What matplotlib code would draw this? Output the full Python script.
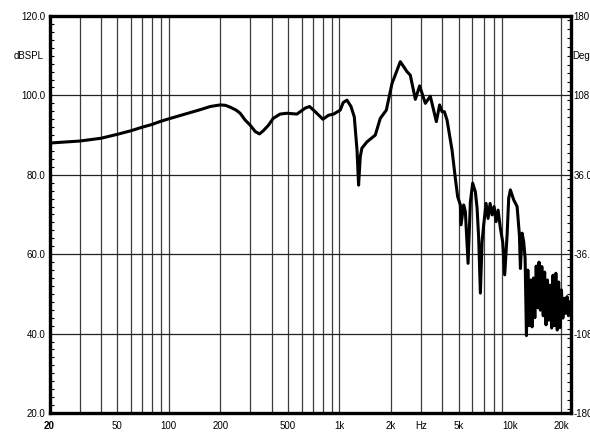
import matplotlib
matplotlib.use("Agg")
import matplotlib.pyplot as plt
from matplotlib.ticker import FixedLocator, MultipleLocator

plt.rcParams['font.family'] = ['Liberation Sans', 'DejaVu Sans']

# frequency response (Hz, dB SPL), rows of 8 kept aligned
freq = [20, 30, 40, 50, 60, 70, 80, 90,
        100, 120, 150, 175, 200, 215, 230, 248,
        262, 280, 300, 321, 340, 358, 384, 409,
        449, 492, 564, 589, 630, 668, 721, 800,
        863, 925, 1011, 1052, 1107, 1169, 1222, 1268,
        1295, 1325, 1354, 1450, 1622, 1735, 1883, 2033,
        2274, 2487, 2602, 2785, 2951, 3188, 3408, 3698,
        3866, 3993, 4119, 4272, 4571, 4779, 4930, 5112,
        5160, 5346, 5470, 5674, 5854, 6038, 6260, 6408,
        6546, 6698, 6854, 7004, 7234, 7432, 7636, 7844,
        8060, 8280, 8508, 8776, 9052, 9300, 9606, 9816,
        10042, 10500, 10996, 11342, 11497, 11764, 12020, 12250,
        12470, 12708, 12950, 13198, 13450, 13708, 13964, 14230,
        14502, 14778, 15060, 15348, 15644, 15942, 16246, 16556,
        16872, 17194, 17522, 17856, 18196, 18548, 18902, 19262,
        19626, 20000, 20382, 20770, 21166, 21570, 21984, 22404]
spl = [88.0, 88.5, 89.2, 90.2, 91.1, 92.0, 92.7, 93.5,
       94.1, 95.1, 96.3, 97.2, 97.6, 97.5, 97.0, 96.3,
       95.5, 93.8, 92.5, 90.9, 90.3, 91.1, 92.5, 94.2,
       95.3, 95.5, 95.3, 95.9, 96.8, 97.2, 95.9, 94.0,
       95.0, 95.3, 96.3, 98.2, 98.8, 97.2, 94.6, 86.2,
       77.4, 84.6, 86.7, 88.3, 90.0, 94.2, 96.3, 103.0,
       108.5, 106.0, 105.1, 99.0, 102.4, 98.0, 99.8, 93.4,
       97.6, 95.9, 95.9, 93.8, 86.2, 79.1, 74.5, 72.4,
       67.4, 72.4, 70.7, 57.7, 73.2, 77.9, 75.7, 71.6,
       64.1, 50.2, 63.1, 67.4, 72.8, 69.0, 72.8, 69.9,
       72.0, 68.2, 71.1, 66.5, 63.1, 54.8, 64.8, 74.1,
       76.2, 73.7, 72.0, 64.8, 56.4, 65.3, 63.1, 59.0,
       39.5, 56.0, 42.0, 53.5, 41.7, 54.0, 44.0, 57.0,
       46.5, 58.0, 45.9, 56.9, 44.5, 55.5, 42.2, 53.5,
       43.4, 52.2, 41.4, 54.7, 42.0, 55.2, 40.9, 53.0,
       41.5, 51.0, 43.9, 48.9, 45.1, 49.3, 44.5, 48.0]

ylabels_left = ["20.0", "40.0", "60.0", "80.0", "100.0", "120.0"]
ylabels_right = ["-180.0", "-108.0", "-36.0", "36.0", "108.0", "180.0"]
xtick_pos = [20, 50, 100, 200, 500, 1000, 2000, 3000, 5000, 10000, 20000]
xtick_lab = ["20", "50", "100", "200", "500", "1k", "2k", "Hz", "5k", "10k", "20k"]

fig = plt.figure(figsize=(5.9, 4.32), dpi=100)
ax = fig.add_axes([49.5/590, 1-413/432, (570.5-49.5)/590, (413-16)/432])

ax.set_xscale('log')
ax.set_xlim(20, 22600)
ax.set_ylim(20, 120)

# grid
grid_x = [f * m for m in (10, 100, 1000) for f in range(1, 10)] + [20000]
grid_x = sorted(set(g for g in grid_x if 20 < g < 22600))
for g in grid_x:
    ax.axvline(g, color='#3c3c3c', lw=0.9, zorder=1)
for g in [40, 60, 80, 100]:
    ax.axhline(g, color='#222222', lw=0.9, zorder=1)

ax.plot(freq, spl, color='black', lw=2.2, zorder=3, solid_joinstyle='round')

for s in ax.spines.values():
    s.set_linewidth(2.4)
    s.set_zorder(5)

ax.xaxis.set_major_locator(FixedLocator(xtick_pos))
ax.xaxis.set_minor_locator(FixedLocator([]))
ax.set_xticklabels(xtick_lab)
ax.tick_params(axis='x', length=0, pad=6, labelsize=7)
ax.get_xticklabels()[0].set_fontweight('bold')

ax.set_yticks([20, 40, 60, 80, 100, 120])
ax.set_yticklabels(ylabels_left)
ax.yaxis.set_minor_locator(MultipleLocator(2))
ax.tick_params(axis='y', which='major', length=0, pad=3, labelsize=7)
ax.tick_params(axis='y', which='minor', direction='in', length=3, width=0.8)
ax.text(-0.012, 110, "dBSPL", transform=ax.get_yaxis_transform(),
        ha='right', va='center', fontsize=7)

ax2 = ax.twinx()
ax2.set_ylim(-180, 180)
ax2.set_yticks([-180, -108, -36, 36, 108, 180])
ax2.set_yticklabels(ylabels_right)
ax2.yaxis.set_minor_locator(MultipleLocator(8))
ax2.tick_params(axis='y', which='major', length=0, pad=2, labelsize=7)
ax2.tick_params(axis='y', which='minor', direction='in', length=3, width=0.8)
for s in ax2.spines.values():
    s.set_visible(False)
ax2.text(1.004, 144, "Deg", transform=ax2.get_yaxis_transform(),
         ha='left', va='center', fontsize=7)

fig.savefig("out.png", dpi=100)
